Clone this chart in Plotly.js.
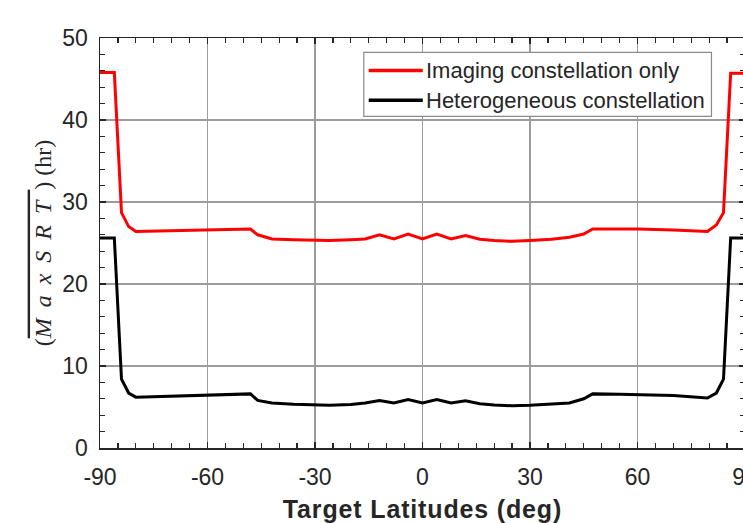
<!DOCTYPE html>
<html>
<head>
<meta charset="utf-8">
<script src="https://cdn.plot.ly/plotly-3.0.1.min.js"></script>
<style>
html, body { margin: 0; padding: 0; overflow: hidden; background: #fff; }
#chart { width: 760px; height: 523px; }
</style>
</head>
<body>
<div id="chart"></div>
<script>
// Target latitudes (deg)
const latitudes = [-90, -86, -84, -82, -80, -70, -60, -48, -46, -42, -36, -30, -26, -20, -16, -12, -8, -4, 0, 4, 8, 12, 16, 20, 25, 30, 36, 41, 45, 47.5, 55, 60, 70, 79.5, 82, 84, 86, 90];
// Imaging constellation only (hr)
const imagingOnly = [45.8, 45.8, 28.7, 27.0, 26.4, 26.5, 26.6, 26.7, 26.0, 25.5, 25.4, 25.3, 25.3, 25.4, 25.5, 26.0, 25.5, 26.1, 25.5, 26.1, 25.5, 25.9, 25.45, 25.3, 25.2, 25.3, 25.45, 25.7, 26.1, 26.7, 26.7, 26.7, 26.6, 26.4, 27.2, 28.7, 45.7, 45.7];
// Heterogeneous constellation (hr)
const heterogeneous = [25.6, 25.6, 8.4, 6.7, 6.2, 6.35, 6.5, 6.6, 5.8, 5.5, 5.35, 5.25, 5.2, 5.3, 5.5, 5.8, 5.5, 5.9, 5.5, 5.9, 5.5, 5.75, 5.4, 5.25, 5.15, 5.2, 5.35, 5.5, 6.0, 6.6, 6.55, 6.5, 6.4, 6.1, 6.7, 8.4, 25.6, 25.6];

const seriesNames = ['Imaging constellation only', 'Heterogeneous constellation'];
const seriesColors = ['#ff0000', '#000000'];

const xTickVals = [-90, -60, -30, 0, 30, 60, 90];
const xTickText = ['-90', '-60', '-30', '0', '30', '60', '90'];
const yTickVals = [0, 10, 20, 30, 40, 50];
const yTickText = ['0', '10', '20', '30', '40', '50'];

const axisColor = '#262626';
const gridColor = '#9c9c9c';
const fontSans = 'Liberation Sans, Arial, sans-serif';

const traces = [
  { x: latitudes, y: imagingOnly, name: seriesNames[0], type: 'scatter', mode: 'lines',
    line: { color: seriesColors[0], width: 3 }, showlegend: false },
  { x: latitudes, y: heterogeneous, name: seriesNames[1], type: 'scatter', mode: 'lines',
    line: { color: seriesColors[1], width: 3 }, showlegend: false }
];

const commonAxis = {
  showline: true, linecolor: axisColor, linewidth: 1.5, mirror: 'ticks',
  ticks: 'inside', ticklen: 6, tickwidth: 1.2, tickcolor: axisColor,
  showgrid: true, gridcolor: gridColor, gridwidth: 1.2, zeroline: false,
  tickfont: { family: fontSans, size: 23, color: axisColor },
  tickmode: 'array'
};

// custom legend box (paper coordinates)
const lgX0 = 0.409, lgX1 = 0.948, lgY0 = 0.809, lgY1 = 0.965;
const lgLineX0 = 0.4166, lgLineX1 = 0.5004, lgTextX = 0.503;
const lgRows = [0.921, 0.848];

const shapes = [
  { type: 'rect', xref: 'paper', yref: 'paper', x0: lgX0, x1: lgX1, y0: lgY0, y1: lgY1,
    fillcolor: '#ffffff', line: { color: '#8a8a8a', width: 1.2 }, layer: 'above' }
];
const annotations = [];
seriesNames.forEach((nm, i) => {
  shapes.push({ type: 'line', xref: 'paper', yref: 'paper', x0: lgLineX0, x1: lgLineX1,
    y0: lgRows[i], y1: lgRows[i], line: { color: seriesColors[i], width: 3.5 }, layer: 'above' });
  annotations.push({ xref: 'paper', yref: 'paper', x: lgTextX, y: lgRows[i], text: nm,
    showarrow: false, xanchor: 'left', yanchor: 'middle',
    font: { family: fontSans, size: 22, color: axisColor } });
});

const layout = {
  width: 760, height: 523,
  margin: { l: 100, r: 15, t: 38, b: 75 },
  paper_bgcolor: '#ffffff', plot_bgcolor: '#ffffff',
  showlegend: false,
  xaxis: Object.assign({}, commonAxis, {
    range: [-90, 90], tickvals: xTickVals, ticktext: xTickText,
    ticklabelstandoff: 8,
    minor: { dtick: 5, tick0: -90, ticks: 'inside', ticklen: 5, tickwidth: 1.2, tickcolor: axisColor, showgrid: false },
    title: { text: '<b><span style="letter-spacing:0.85px">Target Latitudes (deg)</span></b>', standoff: 11,
      font: { family: fontSans, size: 25, color: axisColor } }
  }),
  yaxis: Object.assign({}, commonAxis, {
    range: [0, 50], tickvals: yTickVals, ticktext: yTickText,
    ticklabelstandoff: 6,
    minor: { dtick: 2, tick0: 0, ticks: 'inside', ticklen: 5, tickwidth: 1.2, tickcolor: axisColor, showgrid: false },
    title: { text: '(<span style="text-decoration:overline;letter-spacing:11px"><i>MaxSRT</i></span>) (hr)', standoff: 4,
      font: { family: 'Liberation Serif, Times New Roman, serif', size: 24, color: axisColor } }
  }),
  shapes: shapes,
  annotations: annotations
};

Plotly.newPlot('chart', traces, layout, { displayModeBar: false, staticPlot: true });
</script>
</body>
</html>
